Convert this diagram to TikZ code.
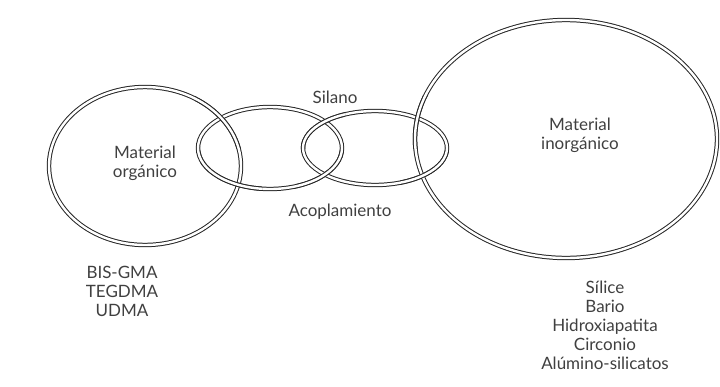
\documentclass[tikz,border=0pt]{standalone}
\usepackage{fontspec}
\setmainfont{Lato}
\tikzset{
  ring/.style={draw=black!85, line width=1pt, double=white, double distance=2.4pt},
  ringlabel/.style={font=\fontsize{17}{19}\selectfont, text=black!75, align=center, inner sep=0pt},
}
\newcommand{\orgring}{(145,166) ellipse [x radius=96pt, y radius=79pt]}
\newcommand{\firstring}{(270,148) ellipse [x radius=72pt, y radius=41pt]}
\newcommand{\secondring}{(375,148) ellipse [x radius=72pt, y radius=37pt]}
\newcommand{\inorgring}{(566,139) ellipse [x radius=151pt, y radius=119pt]}

\begin{document}
\begin{tikzpicture}[x=1pt, y=-1pt]
  \useasboundingbox (0,0) rectangle (720,386);
  % the four rings
  \draw[ring] \orgring;
  \draw[ring] \firstring;
  \draw[ring] \secondring;
  \draw[ring] \inorgring;
  % over / under at the crossings
  \begin{scope}
    \clip (195,95) rectangle (255,148);
    \draw[ring] \orgring;
  \end{scope}
  \begin{scope}
    \clip (200,150) rectangle (262,200);
    \draw[ring] \firstring;
  \end{scope}
  \begin{scope}
    \clip (295,100) rectangle (345,148);
    \draw[ring] \secondring;
  \end{scope}
  \begin{scope}
    \clip (295,150) rectangle (350,200);
    \draw[ring] \firstring;
  \end{scope}
  \begin{scope}
    \clip (400,95) rectangle (440,148);
    \draw[ring] \inorgring;
  \end{scope}
  \begin{scope}
    \clip (400,150) rectangle (450,200);
    \draw[ring] \secondring;
  \end{scope}
  % labels
  \node[ringlabel] (orglabel) at (145,163) {Material\\orgánico};
  \node[ringlabel] (inorglabel) at (580,135) {Material\\inorgánico};
  \node[ringlabel] (silano) at (335,97) {Silano};
  \node[ringlabel] (acoplamiento) at (340,212) {Acoplamiento};
  \node[ringlabel] (orglist) at (122,291) {BIS-GMA\\TEGDMA\\UDMA};
  \node[ringlabel] (inorglist) at (605,325) {Sílice\\Bario\\Hidroxiapatita\\Circonio\\Alúmino-silicatos};
\end{tikzpicture}
\end{document}
